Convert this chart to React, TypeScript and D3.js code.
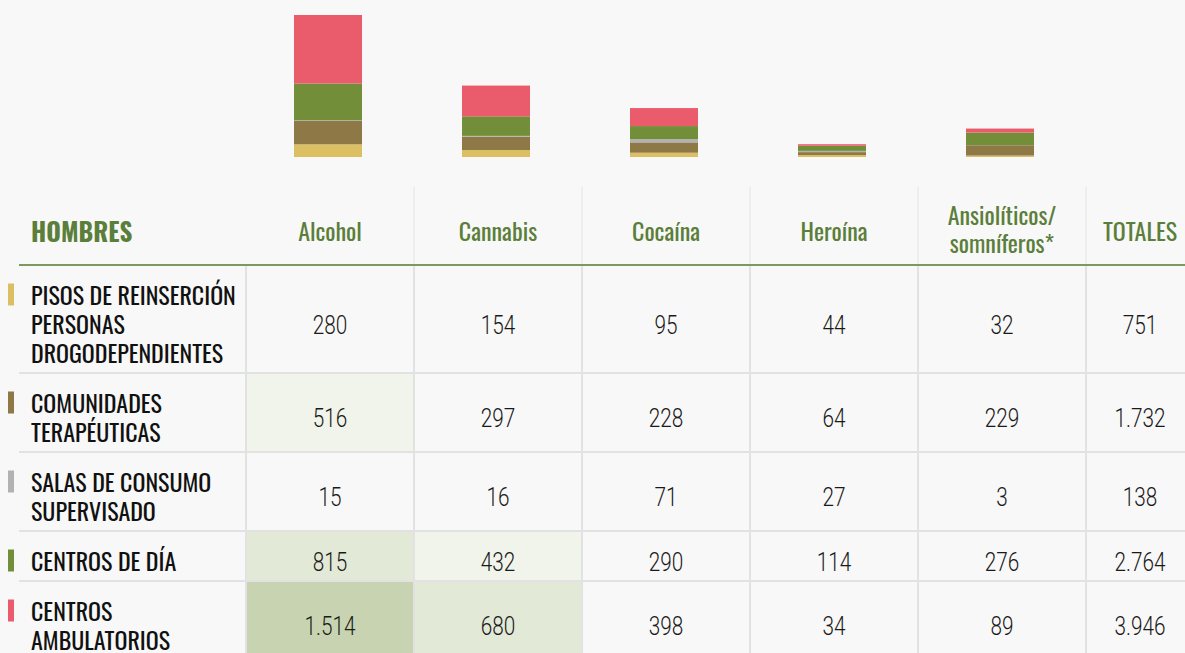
import React from 'react';
import * as d3 from 'd3';

const WIDTH = 1185;
const HEIGHT = 653;

// drugs (columns) and services (rows)
const drugs = ['Alcohol', 'Cannabis', 'Cocaína', 'Heroína', 'Ansiolíticos/ somníferos*'];
const services = ['pisos', 'comunidades', 'salas', 'dia', 'ambulatorios'];
const serviceLabels = [
  ['PISOS DE REINSERCIÓN', 'PERSONAS', 'DROGODEPENDIENTES'],
  ['COMUNIDADES', 'TERAPÉUTICAS'],
  ['SALAS DE CONSUMO', 'SUPERVISADO'],
  ['CENTROS DE DÍA'],
  ['CENTROS', 'AMBULATORIOS'],
];
const serviceColors = ['#dbbf62', '#8e7845', '#b2b2b2', '#738e39', '#ea5c6b'];

const pisos = [280, 154, 95, 44, 32];
const comunidades = [516, 297, 228, 64, 229];
const salas = [15, 16, 71, 27, 3];
const dia = [815, 432, 290, 114, 276];
const ambulatorios = [1514, 680, 398, 34, 89];
const totales = [751, 1732, 138, 2764, 3946];

const values = [pisos, comunidades, salas, dia, ambulatorios];

const GREEN = '#5b7f3b';
const FONT = "Oswald, 'Liberation Sans Narrow', 'DejaVu Sans Condensed', sans-serif";
const NUM_FONT = "Roboto, 'Liberation Sans', sans-serif";
const NUM_SQUEEZE = 0.83;

const es = d3.formatLocale({ decimal: ',', thousands: '.', grouping: [3], currency: ['', '€'] });
const fmt = es.format(',d');

const shade = d3.scaleThreshold<number, string>()
  .domain([400, 600, 1000])
  .range(['none', '#f1f4ea', '#e2e9d7', '#c8d4b1']);

// table geometry
const TABLE_LEFT = 19;
const FIRST_COL = 246;
const COL_W = 168;
const TOTAL_W = 108;
const HEADER_TOP = 187;
const HEADER_LINE = 265;
const LINE_H = 29;
const ROW_PAD = 21;

const x = d3.scaleBand<string>()
  .domain(drugs)
  .range([FIRST_COL, FIRST_COL + COL_W * drugs.length]);
const totalX = FIRST_COL + COL_W * drugs.length;

const barData = drugs.map((d, i) => {
  const row: any = { drug: d };
  services.forEach((s, j) => { row[s] = values[j][i]; });
  return row;
});
const stacked = d3.stack<any>().keys(services)(barData);
const maxTotal = d3.max(barData, d => d3.sum(services, s => d[s])) as number;
const y = d3.scaleLinear().domain([0, maxTotal]).range([157, 15]);

const rowHeights = serviceLabels.map(l => ROW_PAD + LINE_H * l.length);
const rowTops = rowHeights.map((_, i) => HEADER_LINE + d3.sum(rowHeights.slice(0, i)));

const Num = ({ x, y, children }: any) => (
  <text
    transform={`translate(${x},${y}) scale(${NUM_SQUEEZE},1)`}
    textAnchor="middle"
    fontFamily={NUM_FONT}
    fontWeight={300}
    fontSize={25}
    fill="#1a1a1a"
  >
    {children}
  </text>
);

export default function App() {
  const tableBottom = HEIGHT + 20;
  return (
    <svg
      width={WIDTH}
      height={HEIGHT}
      style={{ position: 'absolute', left: 0, top: 0, background: '#f8f8f8' }}
      fontFamily={FONT}
    >
      <rect width={WIDTH} height={HEIGHT} fill="#f8f8f8" />

      {/* stacked bars */}
      {stacked.map((layer, j) => (
        <g key={layer.key} fill={serviceColors[j]}>
          {layer.map((d, i) => (
            <rect
              key={i}
              x={(x(drugs[i]) as number) + COL_W / 2 - 36}
              width={68}
              y={y(d[1])}
              height={y(d[0]) - y(d[1])}
            />
          ))}
        </g>
      ))}

      {/* cell shading */}
      {values.map((row, j) => row.map((v, i) => (
        <rect
          key={`s${j}-${i}`}
          x={x(drugs[i])}
          y={rowTops[j]}
          width={COL_W}
          height={rowHeights[j]}
          fill={shade(v)}
        />
      )))}

      {/* vertical grid */}
      {[...drugs.map(d => x(d) as number), totalX].map((vx, i) => (
        <g key={`v${i}`}>
          {i > 0 && (
            <line x1={vx} x2={vx} y1={HEADER_TOP} y2={HEADER_LINE} stroke="#eeeeee" strokeWidth={2} />
          )}
          <line x1={vx} x2={vx} y1={HEADER_LINE} y2={tableBottom} stroke="#e2e2e2" strokeWidth={2} />
        </g>
      ))}

      {/* row lines */}
      {rowTops.slice(1).map((ry, i) => (
        <line key={`h${i}`} x1={TABLE_LEFT} x2={WIDTH} y1={ry} y2={ry} stroke="#e2e2e2" strokeWidth={2} />
      ))}
      <line x1={TABLE_LEFT} x2={WIDTH} y1={HEADER_LINE} y2={HEADER_LINE} stroke="#7d9a5d" strokeWidth={2} />

      {/* header */}
      <text x={31} y={242} fontSize={25} fontWeight={700} fill={GREEN}>HOMBRES</text>
      {drugs.map(d => {
        const parts = d.split(' ');
        const cx = (x(d) as number) + COL_W / 2;
        return parts.length === 1 ? (
          <text key={d} x={cx} y={241} textAnchor="middle" fontSize={24} fill={GREEN}>{d}</text>
        ) : (
          <text key={d} textAnchor="middle" fontSize={24} fill={GREEN}>
            <tspan x={cx} y={225}>{parts[0]}</tspan>
            <tspan x={cx} y={253}>{parts[1]}</tspan>
          </text>
        );
      })}
      <text x={totalX + TOTAL_W / 2} y={241} textAnchor="middle" fontSize={24} fill={GREEN}>TOTALES</text>

      {/* body */}
      {serviceLabels.map((lines, j) => {
        const top = rowTops[j];
        const mid = top + rowHeights[j] / 2 + 5.5;
        const firstBase = mid - ((lines.length - 1) * LINE_H) / 2 + 9;
        return (
          <g key={`r${j}`}>
            <rect x={8} y={firstBase - 21} width={6} height={22} fill={serviceColors[j]} />
            <text fontSize={24} fill="#111">
              {lines.map((l, k) => (
                <tspan key={k} x={31} y={firstBase + k * LINE_H}>{l}</tspan>
              ))}
            </text>
            {values[j].map((v, i) => (
              <Num key={i} x={(x(drugs[i]) as number) + COL_W / 2} y={mid + 9}>{fmt(v)}</Num>
            ))}
            <Num x={totalX + TOTAL_W / 2} y={mid + 9}>{fmt(totales[j])}</Num>
          </g>
        );
      })}
    </svg>
  );
}
